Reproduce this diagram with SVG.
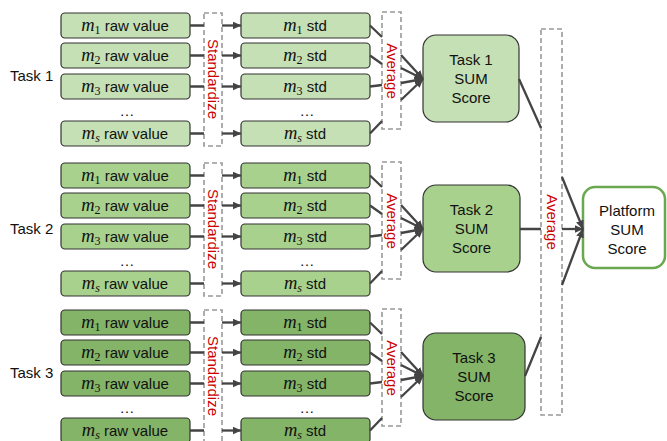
<svg xmlns="http://www.w3.org/2000/svg" width="667" height="441" viewBox="0 0 667 441">
<defs>
<style>
text{font-family:"Liberation Sans",Arial,sans-serif;font-size:15px;fill:#111}
.box{stroke:#333;stroke-width:1.2}
.g1{fill:#c5e0b4}.g2{fill:#a9d18e}.g3{fill:#84b467}
.dash{fill:none;stroke:#999;stroke-width:1.6;stroke-dasharray:5,3}
.red{fill:#cc0000}
.m{font-family:"Liberation Serif","Times New Roman",serif;font-style:italic;font-size:18.5px}
.sub{font-family:"Liberation Serif","Times New Roman",serif;font-size:12px}
.subi{font-family:"Liberation Serif","Times New Roman",serif;font-size:12px;font-style:italic}
.c{text-anchor:middle}
.ln{stroke:#444;stroke-width:2.3;fill:none}
.ar{stroke:#444;stroke-width:2.3;fill:none;marker-end:url(#ah)}
</style>
<marker id="ah" markerUnits="userSpaceOnUse" markerWidth="9" markerHeight="8" refX="8.5" refY="4" orient="auto"><path d="M0,0 L9,4 L0,8 z" fill="#444"/></marker>
</defs>
<rect width="667" height="441" fill="#fff"/>

<!-- Task labels -->
<text x="10" y="81">Task 1</text>
<text x="10" y="234">Task 2</text>
<text x="10" y="378">Task 3</text>

<!-- ================= TASK 1 ================= -->
<g id="t1-raw1"><rect class="box g1" x="61" y="13" width="129" height="25" rx="4"/><text class="c" x="125" y="31"><tspan class="m">m</tspan><tspan class="sub" dy="3">1</tspan><tspan dy="-3"> raw value</tspan></text></g>
<g id="t1-raw2"><rect class="box g1" x="61" y="43" width="129" height="25" rx="4"/><text class="c" x="125" y="61"><tspan class="m">m</tspan><tspan class="sub" dy="3">2</tspan><tspan dy="-3"> raw value</tspan></text></g>
<g id="t1-raw3"><rect class="box g1" x="61" y="74" width="129" height="25" rx="4"/><text class="c" x="125" y="92"><tspan class="m">m</tspan><tspan class="sub" dy="3">3</tspan><tspan dy="-3"> raw value</tspan></text></g>
<text class="c" x="127" y="116">…</text>
<g id="t1-raws"><rect class="box g1" x="61" y="121" width="129" height="25" rx="4"/><text class="c" x="125" y="139"><tspan class="m">m</tspan><tspan class="subi" dy="3">s</tspan><tspan dy="-3"> raw value</tspan></text></g>
<g id="t1-standardize"><rect class="dash" x="204" y="13" width="18" height="133"/><text class="red c" transform="translate(208,79) rotate(90)">Standardize</text></g>
<g id="t1-std1"><rect class="box g1" x="241" y="13" width="129" height="25" rx="4"/><text class="c" x="305" y="31"><tspan class="m">m</tspan><tspan class="sub" dy="3">1</tspan><tspan dy="-3"> std</tspan></text></g>
<g id="t1-std2"><rect class="box g1" x="241" y="43" width="129" height="25" rx="4"/><text class="c" x="305" y="61"><tspan class="m">m</tspan><tspan class="sub" dy="3">2</tspan><tspan dy="-3"> std</tspan></text></g>
<g id="t1-std3"><rect class="box g1" x="241" y="74" width="129" height="25" rx="4"/><text class="c" x="305" y="92"><tspan class="m">m</tspan><tspan class="sub" dy="3">3</tspan><tspan dy="-3"> std</tspan></text></g>
<text class="c" x="307" y="116">…</text>
<g id="t1-stds"><rect class="box g1" x="241" y="121" width="129" height="25" rx="4"/><text class="c" x="305" y="139"><tspan class="m">m</tspan><tspan class="subi" dy="3">s</tspan><tspan dy="-3"> std</tspan></text></g>
<g id="t1-average"><rect class="dash" x="382" y="12" width="19" height="117"/><text class="red c" transform="translate(386.5,71) rotate(90)">Average</text></g>
<g id="t1-sum"><rect class="box g1" x="423" y="35" width="96" height="87" rx="13"/><text class="c" x="471" y="65">Task 1</text><text class="c" x="471" y="84">SUM</text><text class="c" x="471" y="103">Score</text></g>

<!-- ================= TASK 2 ================= -->
<g id="t2-raw1"><rect class="box g2" x="61" y="163" width="129" height="25" rx="4"/><text class="c" x="125" y="181"><tspan class="m">m</tspan><tspan class="sub" dy="3">1</tspan><tspan dy="-3"> raw value</tspan></text></g>
<g id="t2-raw2"><rect class="box g2" x="61" y="193" width="129" height="25" rx="4"/><text class="c" x="125" y="211"><tspan class="m">m</tspan><tspan class="sub" dy="3">2</tspan><tspan dy="-3"> raw value</tspan></text></g>
<g id="t2-raw3"><rect class="box g2" x="61" y="224" width="129" height="25" rx="4"/><text class="c" x="125" y="242"><tspan class="m">m</tspan><tspan class="sub" dy="3">3</tspan><tspan dy="-3"> raw value</tspan></text></g>
<text class="c" x="127" y="266">…</text>
<g id="t2-raws"><rect class="box g2" x="61" y="271" width="129" height="25" rx="4"/><text class="c" x="125" y="289"><tspan class="m">m</tspan><tspan class="subi" dy="3">s</tspan><tspan dy="-3"> raw value</tspan></text></g>
<g id="t2-standardize"><rect class="dash" x="204" y="163" width="18" height="133"/><text class="red c" transform="translate(208,229) rotate(90)">Standardize</text></g>
<g id="t2-std1"><rect class="box g2" x="241" y="163" width="129" height="25" rx="4"/><text class="c" x="305" y="181"><tspan class="m">m</tspan><tspan class="sub" dy="3">1</tspan><tspan dy="-3"> std</tspan></text></g>
<g id="t2-std2"><rect class="box g2" x="241" y="193" width="129" height="25" rx="4"/><text class="c" x="305" y="211"><tspan class="m">m</tspan><tspan class="sub" dy="3">2</tspan><tspan dy="-3"> std</tspan></text></g>
<g id="t2-std3"><rect class="box g2" x="241" y="224" width="129" height="25" rx="4"/><text class="c" x="305" y="242"><tspan class="m">m</tspan><tspan class="sub" dy="3">3</tspan><tspan dy="-3"> std</tspan></text></g>
<text class="c" x="307" y="266">…</text>
<g id="t2-stds"><rect class="box g2" x="241" y="271" width="129" height="25" rx="4"/><text class="c" x="305" y="289"><tspan class="m">m</tspan><tspan class="subi" dy="3">s</tspan><tspan dy="-3"> std</tspan></text></g>
<g id="t2-average"><rect class="dash" x="382" y="162" width="19" height="117"/><text class="red c" transform="translate(386.5,221) rotate(90)">Average</text></g>
<g id="t2-sum"><rect class="box g2" x="423" y="185" width="97" height="87" rx="13"/><text class="c" x="471.5" y="215">Task 2</text><text class="c" x="471.5" y="234">SUM</text><text class="c" x="471.5" y="253">Score</text></g>

<!-- ================= TASK 3 ================= -->
<g id="t3-raw1"><rect class="box g3" x="61" y="310" width="129" height="25" rx="4"/><text class="c" x="125" y="328"><tspan class="m">m</tspan><tspan class="sub" dy="3">1</tspan><tspan dy="-3"> raw value</tspan></text></g>
<g id="t3-raw2"><rect class="box g3" x="61" y="340" width="129" height="25" rx="4"/><text class="c" x="125" y="358"><tspan class="m">m</tspan><tspan class="sub" dy="3">2</tspan><tspan dy="-3"> raw value</tspan></text></g>
<g id="t3-raw3"><rect class="box g3" x="61" y="371" width="129" height="25" rx="4"/><text class="c" x="125" y="389"><tspan class="m">m</tspan><tspan class="sub" dy="3">3</tspan><tspan dy="-3"> raw value</tspan></text></g>
<text class="c" x="127" y="413">…</text>
<g id="t3-raws"><rect class="box g3" x="61" y="418" width="129" height="25" rx="4"/><text class="c" x="125" y="436"><tspan class="m">m</tspan><tspan class="subi" dy="3">s</tspan><tspan dy="-3"> raw value</tspan></text></g>
<g id="t3-standardize"><rect class="dash" x="204" y="310" width="18" height="133"/><text class="red c" transform="translate(208,376) rotate(90)">Standardize</text></g>
<g id="t3-std1"><rect class="box g3" x="241" y="310" width="129" height="25" rx="4"/><text class="c" x="305" y="328"><tspan class="m">m</tspan><tspan class="sub" dy="3">1</tspan><tspan dy="-3"> std</tspan></text></g>
<g id="t3-std2"><rect class="box g3" x="241" y="340" width="129" height="25" rx="4"/><text class="c" x="305" y="358"><tspan class="m">m</tspan><tspan class="sub" dy="3">2</tspan><tspan dy="-3"> std</tspan></text></g>
<g id="t3-std3"><rect class="box g3" x="241" y="371" width="129" height="25" rx="4"/><text class="c" x="305" y="389"><tspan class="m">m</tspan><tspan class="sub" dy="3">3</tspan><tspan dy="-3"> std</tspan></text></g>
<text class="c" x="307" y="413">…</text>
<g id="t3-stds"><rect class="box g3" x="241" y="418" width="129" height="25" rx="4"/><text class="c" x="305" y="436"><tspan class="m">m</tspan><tspan class="subi" dy="3">s</tspan><tspan dy="-3"> std</tspan></text></g>
<g id="t3-average"><rect class="dash" x="382" y="309" width="19" height="117"/><text class="red c" transform="translate(386.5,368) rotate(90)">Average</text></g>
<g id="t3-sum"><rect class="box g3" x="423" y="333" width="102" height="87" rx="13"/><text class="c" x="474" y="363">Task 3</text><text class="c" x="474" y="382">SUM</text><text class="c" x="474" y="401">Score</text></g>

<!-- Platform -->
<g id="platform-average"><rect class="dash" x="541" y="29" width="21" height="386"/><text class="red c" transform="translate(546.5,222) rotate(90)">Average</text></g>
<g id="platform-sum"><rect x="583" y="187" width="82" height="81" rx="12" fill="#fff" stroke="#6aa84f" stroke-width="2.5"/><text class="c" x="627" y="216">Platform</text><text class="c" x="627" y="235">SUM</text><text class="c" x="627" y="254">Score</text></g>

<!-- Connectors -->
<g id="connectors">
<path class="ln" d="M190,25.5H204M190,55.5H204M190,86.5H204M190,133.5H204"/>
<path class="ar" d="M222,25.5H241"/><path class="ar" d="M222,55.5H241"/><path class="ar" d="M222,86.5H241"/><path class="ar" d="M222,133.5H241"/>
<path class="ln" d="M370,25.5L382,37M370,55.5L382,64M370,86.5L382,85M370,133.5L382,121"/>
<path class="ar" d="M401,55L423,79"/><path class="ar" d="M401,68L423,79"/><path class="ar" d="M401,83L423,79"/><path class="ar" d="M401,100L423,79"/>

<path class="ln" d="M190,175.5H204M190,205.5H204M190,236.5H204M190,283.5H204"/>
<path class="ar" d="M222,175.5H241"/><path class="ar" d="M222,205.5H241"/><path class="ar" d="M222,236.5H241"/><path class="ar" d="M222,283.5H241"/>
<path class="ln" d="M370,175.5L382,187M370,205.5L382,214M370,236.5L382,235M370,283.5L382,271"/>
<path class="ar" d="M401,205L423,229"/><path class="ar" d="M401,218L423,229"/><path class="ar" d="M401,233L423,229"/><path class="ar" d="M401,250L423,229"/>

<path class="ln" d="M190,322.5H204M190,352.5H204M190,383.5H204M190,430.5H204"/>
<path class="ar" d="M222,322.5H241"/><path class="ar" d="M222,352.5H241"/><path class="ar" d="M222,383.5H241"/><path class="ar" d="M222,430.5H241"/>
<path class="ln" d="M370,322.5L382,334M370,352.5L382,361M370,383.5L382,382M370,430.5L382,418"/>
<path class="ar" d="M401,352L423,376"/><path class="ar" d="M401,365L423,376"/><path class="ar" d="M401,380L423,376"/><path class="ar" d="M401,397L423,376"/>

<path class="ln" d="M519,79L541,128M520,229H541M525,376L541,337"/>
<path class="ar" d="M562,177L583,229"/><path class="ar" d="M562,229H583"/><path class="ar" d="M562,285L583,229"/>
</g>
</svg>
